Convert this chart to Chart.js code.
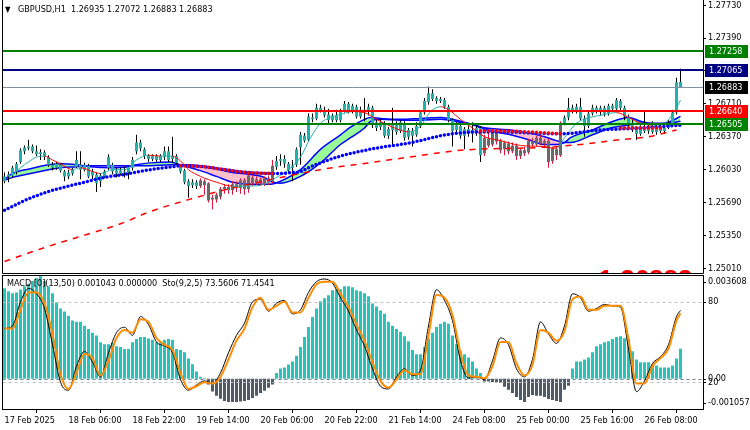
<!DOCTYPE html>
<html>
<head>
<meta charset="utf-8">
<script src="https://cdn.jsdelivr.net/npm/chart.js@4.4.1/dist/chart.umd.min.js"></script>
<style>
  body { margin: 0; background: #fff; }
  #wrap { position: relative; width: 750px; height: 430px; overflow: hidden;
          font-family: 'DejaVu Sans Condensed', 'DejaVu Sans', sans-serif; font-size: 9px; color: #000; }
  canvas { position: absolute; left: 0; }
  #main { top: 0; }
  #sub { top: 274px; }
  .title { position: absolute; white-space: pre; line-height: 11px; }
  #arrow { left: 5px; top: 4px; font-size: 8px; }
  #t1 { left: 18px; top: 4px; }
  #t2 { left: 7px; top: 278px; }
</style>
</head>
<body>
<div id="wrap">
  <canvas id="main" width="750" height="274"></canvas>
  <canvas id="sub" width="750" height="156"></canvas>
  <div class="title" id="arrow">▼</div>
  <div class="title" id="t1">GBPUSD,H1  1.26935 1.27072 1.26883 1.26883</div>
  <div class="title" id="t2">MACD [0](13,50) 0.001043 0.000000  Sto(9,2,5) 73.5606 71.4541</div>
</div>
<script>
// time axis: one label every 16 hourly bars
const timeLabels = ['17 Feb 2025', '18 Feb 06:00', '18 Feb 22:00', '19 Feb 14:00', '20 Feb 06:00', '20 Feb 22:00',
                    '21 Feb 14:00', '24 Feb 08:00', '25 Feb 00:00', '25 Feb 16:00', '26 Feb 08:00'];
const timeTickBars = [0, 16, 32, 48, 64, 80, 96, 112, 128, 144, 160];
const priceTicks = [1.25010, 1.25350, 1.25690, 1.26030, 1.26370, 1.26710, 1.27050, 1.27390, 1.27730];

// GBPUSD H1 candles
const openP = [
1.2591,1.2596,1.2597,1.2601,1.2611,1.2622,1.2625,1.2627,1.2622,1.2619,
1.2621,1.2616,1.2608,1.2605,1.2608,1.2601,1.2596,1.2599,1.2606,1.2608,
1.2603,1.2607,1.2597,1.2598,1.2591,1.2596,1.2605,1.2608,1.2602,1.2599,
1.2601,1.2600,1.2605,1.2622,1.2631,1.2624,1.2617,1.2614,1.2617,1.2613,
1.2616,1.2622,1.2614,1.2617,1.2607,1.2602,1.2591,1.2587,1.2590,1.2586,
1.2591,1.2589,1.2572,1.2572,1.2575,1.2583,1.2585,1.2582,1.2588,1.2584,
1.2592,1.2583,1.2595,1.2589,1.2593,1.2589,1.2594,1.2591,1.2606,1.2612,
1.2614,1.2609,1.2605,1.2608,1.2626,1.2638,1.2634,1.2657,1.2656,1.2667,
1.2664,1.2660,1.2654,1.2659,1.2654,1.2664,1.2671,1.2663,1.2668,1.2658,
1.2665,1.2663,1.2667,1.2652,1.2647,1.2651,1.2638,1.2644,1.2649,1.2643,
1.2651,1.2637,1.2643,1.2639,1.2648,1.2662,1.2673,1.2682,1.2677,1.2674,
1.2675,1.2668,1.2654,1.2644,1.2648,1.2638,1.2645,1.2640,1.2646,1.2646,
1.2620,1.2635,1.2629,1.2643,1.2633,1.2624,1.2630,1.2622,1.2628,1.2617,
1.2623,1.2621,1.2633,1.2629,1.2636,1.2630,1.2633,1.2612,1.2624,1.2618,
1.2651,1.2657,1.2667,1.2663,1.2668,1.2656,1.2648,1.2661,1.2667,1.2663,
1.2667,1.2661,1.2669,1.2666,1.2674,1.2667,1.2658,1.2651,1.2645,1.2640,
1.2646,1.2643,1.2648,1.2642,1.2647,1.2643,1.2646,1.2651,1.2662,1.26935];
const highP = [
1.2600,1.2601,1.2607,1.2611,1.2625,1.2628,1.2634,1.2629,1.2628,1.2624,
1.2623,1.2618,1.2611,1.2611,1.2610,1.2603,1.2603,1.2605,1.2622,1.2622,
1.2610,1.2609,1.2604,1.2600,1.2599,1.2603,1.2619,1.2610,1.2605,1.2605,
1.2606,1.2606,1.2616,1.2639,1.2634,1.2626,1.2619,1.2619,1.2619,1.2619,
1.2627,1.2627,1.2637,1.2619,1.2608,1.2604,1.2593,1.2593,1.2592,1.2594,
1.2593,1.2590,1.2577,1.2579,1.2585,1.2588,1.2588,1.2591,1.2591,1.2594,
1.2594,1.2599,1.2597,1.2596,1.2595,1.2596,1.2597,1.2613,1.2617,1.2619,
1.2618,1.2611,1.2613,1.2626,1.2642,1.2641,1.2661,1.2661,1.2671,1.2670,
1.2668,1.2666,1.2661,1.2665,1.2666,1.2674,1.2673,1.2671,1.2670,1.2668,
1.2677,1.2671,1.2669,1.2655,1.2655,1.2653,1.2647,1.2667,1.2653,1.2654,
1.2653,1.2646,1.2646,1.2652,1.2664,1.2677,1.2689,1.2686,1.2679,1.2678,
1.2677,1.2670,1.2656,1.2652,1.2651,1.2647,1.2649,1.2652,1.2649,1.2648,
1.2639,1.2642,1.2645,1.2645,1.2635,1.2633,1.2632,1.2631,1.2630,1.2625,
1.2627,1.2635,1.2636,1.2638,1.2639,1.2635,1.2635,1.2627,1.2627,1.2653,
1.2659,1.2677,1.2670,1.2671,1.2677,1.2659,1.2663,1.2670,1.2669,1.2669,
1.2669,1.2671,1.2671,1.2677,1.2676,1.2669,1.2660,1.2655,1.2648,1.2649,
1.2663,1.2651,1.2653,1.2651,1.2651,1.2649,1.2654,1.2665,1.2698,1.27072];
const lowP = [
1.2589,1.2590,1.2595,1.2598,1.2609,1.2619,1.2623,1.2620,1.2617,1.2613,
1.2613,1.2606,1.2602,1.2603,1.2600,1.2591,1.2593,1.2597,1.2605,1.2593,
1.2601,1.2594,1.2593,1.2580,1.2585,1.2594,1.2603,1.2598,1.2595,1.2597,
1.2595,1.2593,1.2602,1.2619,1.2622,1.2614,1.2611,1.2612,1.2611,1.2611,
1.2613,1.2611,1.2610,1.2608,1.2599,1.2588,1.2574,1.2584,1.2583,1.2584,
1.2577,1.2569,1.2562,1.2569,1.2572,1.2578,1.2578,1.2577,1.2580,1.2578,
1.2577,1.2579,1.2586,1.2587,1.2586,1.2586,1.2587,1.2589,1.2603,1.2607,
1.2605,1.2599,1.2591,1.2606,1.2608,1.2631,1.2632,1.2652,1.2654,1.2662,
1.2657,1.2651,1.2652,1.2652,1.2652,1.2662,1.2661,1.2661,1.2656,1.2656,
1.2653,1.2659,1.2646,1.2643,1.2644,1.2636,1.2635,1.2627,1.2639,1.2641,
1.2633,1.2634,1.2627,1.2637,1.2646,1.2660,1.2670,1.2674,1.2671,1.2672,
1.2666,1.2652,1.2627,1.2639,1.2635,1.2624,1.2637,1.2631,1.2638,1.2611,
1.2617,1.2626,1.2627,1.2629,1.2620,1.2618,1.2619,1.2620,1.2613,1.2614,
1.2617,1.2619,1.2627,1.2627,1.2628,1.2625,1.2605,1.2609,1.2613,1.2616,
1.2649,1.2654,1.2661,1.2661,1.2654,1.2637,1.2646,1.2659,1.2661,1.2659,
1.2658,1.2659,1.2663,1.2664,1.2665,1.2654,1.2647,1.2642,1.2634,1.2638,
1.2641,1.2640,1.2640,1.2639,1.2641,1.2640,1.2645,1.2648,1.2660,1.26883];
const closeP = [
1.2596,1.2598,1.2605,1.2609,1.2623,1.2626,1.2627,1.2622,1.2619,1.2621,
1.2616,1.2608,1.2605,1.2609,1.2602,1.2596,1.2600,1.2603,1.2613,1.2603,
1.2608,1.2596,1.2601,1.2589,1.2597,1.2601,1.2616,1.2601,1.2599,1.2602,
1.2600,1.2605,1.2613,1.2631,1.2625,1.2617,1.2614,1.2617,1.2613,1.2617,
1.2622,1.2613,1.2617,1.2610,1.2601,1.2590,1.2586,1.2590,1.2586,1.2592,
1.2587,1.2571,1.2574,1.2577,1.2583,1.2585,1.2582,1.2588,1.2584,1.2592,
1.2583,1.2597,1.2589,1.2593,1.2589,1.2594,1.2590,1.2607,1.2612,1.2614,
1.2609,1.2602,1.2607,1.2624,1.2639,1.2633,1.2658,1.2655,1.2667,1.2664,
1.2659,1.2654,1.2659,1.2654,1.2664,1.2671,1.2663,1.2669,1.2658,1.2665,
1.2663,1.2668,1.2651,1.2646,1.2652,1.2638,1.2645,1.2651,1.2642,1.2652,
1.2636,1.2644,1.2638,1.2648,1.2662,1.2674,1.2682,1.2676,1.2674,1.2676,
1.2668,1.2654,1.2643,1.2649,1.2638,1.2645,1.2640,1.2644,1.2641,1.2618,
1.2636,1.2628,1.2643,1.2632,1.2623,1.2631,1.2622,1.2628,1.2617,1.2623,
1.2620,1.2633,1.2629,1.2636,1.2630,1.2633,1.2611,1.2625,1.2618,1.2651,
1.2657,1.2667,1.2663,1.2668,1.2656,1.2648,1.2661,1.2667,1.2663,1.2667,
1.2661,1.2669,1.2666,1.2675,1.2667,1.2658,1.2651,1.2645,1.2640,1.2646,
1.2643,1.2648,1.2642,1.2647,1.2643,1.2646,1.2651,1.2662,1.2693,1.26883];
// 1 = up-trend bar (teal), 0 = down-trend bar (grey)
const trendUp = ('1111111111' + '1111111111' + '1111111111' + '1111111111' + '1111111110' +
                 '0000000000' + '0000000011' + '1111111111' + '1111111111' + '1111111111' +
                 '1111111111' + '1111111111' + '0000000000' + '0000000000' + '1111111111' +
                 '1111111111' + '1111111111').split('').map(Number);

// overlay lines, [bar, price]
const bandFast = [[0,1.2593],[2,1.2599],[6.5,1.2604],[11,1.2608],[14,1.2609],[18,1.2608],[21.5,1.2606],[26.5,1.2605],
  [31,1.2606],[33,1.2608],[36.5,1.2610],[41.5,1.2611],[44,1.2608],[49,1.2602],[53,1.2596],[57,1.2590],[61.5,1.2588],
  [65,1.2588],[66.5,1.2588],[69,1.2591],[74,1.2603],[79,1.2624],[84,1.2639],[86.5,1.2647],[90,1.2655],[91.5,1.2657],
  [94,1.2656],[99,1.2655],[104,1.2656],[109,1.2657],[114,1.2653],[118,1.2648],[119,1.2646],[126.5,1.2639],[131,1.2634],
  [135,1.2629],[138,1.2629],[140,1.2631],[141.5,1.2636],[147,1.2644],[151.5,1.2652],[156,1.2657],[159,1.2653],
  [163,1.2650],[166,1.2652],[169,1.2658]];
const bandSlow = [[0,1.2592],[2,1.2595],[6.5,1.2599],[11,1.2603],[14,1.2605],[18,1.2606],[21.5,1.2607],[26.5,1.2607],
  [31,1.2607],[33,1.2607],[36.5,1.2607],[41.5,1.2608],[44,1.2608],[49,1.2607],[53,1.2604],[57,1.2600],[61.5,1.2598],
  [65,1.2595],[66.5,1.2591],[69,1.2589],[74,1.2596],[79,1.2610],[84,1.2629],[86.5,1.2636],[90,1.2646],[91.5,1.2653],
  [94,1.2655],[99,1.2654],[104,1.2654],[109,1.2655],[114,1.2652],[118,1.2649],[119,1.2647],[126.5,1.2644],[131,1.2641],
  [135,1.2637],[138,1.2633],[140,1.2631],[141.5,1.2631],[147,1.2639],[151.5,1.2646],[156,1.2649],[159,1.2651],
  [163,1.2651],[166,1.2651],[169,1.2653]];
const emaFast = [[2,1.2597],[4,1.2605],[6,1.2611],[8,1.2616],[10,1.2617],[12,1.2613],[14,1.2609],[17,1.2603],[19,1.2605],
  [22,1.2601],[24,1.2599],[27,1.2603],[30,1.2603],[33,1.2613],[36,1.2618],[39,1.2617],[42,1.2617],[44,1.2612],[46,1.2603],
  [49,1.2596],[53,1.2590],[57,1.2586],[61,1.2586],[65,1.2588],[68,1.2595],[71,1.2603],[74,1.2616],[76.5,1.2636],
  [79,1.2651],[81.5,1.2657],[84,1.2660],[87,1.2663],[90,1.2662],[93,1.2655],[97,1.2647],[101,1.2642],[104,1.2648],
  [106.5,1.2663],[109,1.2668],[111,1.2665],[114,1.2655],[117,1.2646],[120,1.2637],[124,1.2633],[129,1.2628],[134,1.2627],
  [138,1.2625],[140,1.2636],[143,1.2651],[146.5,1.2657],[150,1.2660],[153,1.2662],[156,1.2657],[159,1.2651],[162,1.2649],
  [165,1.2651],[168,1.2667],[169,1.2675]];
const maDots = [[0,1.2561],[5,1.2571],[10,1.2579],[15,1.2585],[20,1.2590],[25,1.2595],[30,1.2598],[35,1.2602],[40,1.2605],
  [45,1.2607],[50,1.2606],[55,1.2603],[61,1.2600],[68,1.2599],[72,1.2600],[74,1.2601],[76,1.2605],[79,1.2610],[84,1.2617],
  [89,1.2622],[94,1.2626],[99,1.2629],[104,1.2633],[109,1.2638],[114,1.2641],[119,1.2642],[124,1.2642],[131,1.2641],
  [139,1.2640],[149,1.2644],[159,1.2646],[169,1.2649]];
const maDotsBear = [[44,1.2607],[50,1.2606],[55,1.2603],[61,1.2600],[67,1.2599],[68,null],
  [119,1.2643],[124,1.2643],[131,1.2642],[139,1.2640],[140,null],[154,1.2646],[160,1.2646],[165,1.2646]];
const maLong = [[0,1.2508],[9,1.2521],[19,1.2534],[29,1.2547],[36,1.2559],[46,1.2572],[56,1.2583],[67,1.2593],
  [79,1.2603],[91,1.2610],[103,1.2617],[114,1.2623],[134,1.2626],[144,1.2629],[154,1.2634],[161,1.2637],[168,1.2644]];

// horizontal price levels
const levelPrices = [1.27258, 1.27065, 1.26883, 1.26640, 1.26505];
// big price label sitting under the main window, only its top shows
const bigLabel = {text: '1.26883', bar: 148.5};

// MACD histogram and stochastic
const macdHist = [
0.00315,0.00304,0.00297,0.00300,0.00310,0.00322,0.00330,0.00340,0.00350,0.00361,
0.00340,0.00322,0.00297,0.00265,0.00244,0.00234,0.00219,0.00202,0.00198,0.00198,
0.00184,0.00173,0.00160,0.00150,0.00127,0.00120,0.00120,0.00125,0.00113,0.00110,
0.00103,0.00103,0.00127,0.00138,0.00145,0.00145,0.00140,0.00135,0.00127,0.00127,
0.00135,0.00138,0.00135,0.00103,0.00100,0.00092,0.00070,0.00050,0.00025,0.00007,
0.00002,-0.00020,-0.00045,-0.00060,-0.00070,-0.00078,-0.00081,-0.00081,-0.00081,-0.00080,
-0.00078,-0.00074,-0.00067,-0.00060,-0.00050,-0.00042,-0.00032,-0.00020,0.00020,0.00035,
0.00039,0.00049,0.00060,0.00080,0.00110,0.00145,0.00180,0.00215,0.00244,0.00269,
0.00280,0.00290,0.00308,0.00311,0.00311,0.00322,0.00322,0.00318,0.00308,0.00304,
0.00297,0.00287,0.00262,0.00251,0.00237,0.00226,0.00198,0.00184,0.00173,0.00163,
0.00148,0.00130,0.00100,0.00085,0.00085,0.00110,0.00140,0.00160,0.00180,0.00191,
0.00198,0.00191,0.00150,0.00120,0.00095,0.00085,0.00074,0.00060,0.00035,0.00020,
-0.00010,-0.00010,-0.00012,-0.00012,-0.00014,-0.00028,-0.00039,-0.00050,-0.00064,-0.00074,
-0.00081,-0.00064,-0.00057,-0.00060,-0.00060,-0.00064,-0.00071,-0.00074,-0.00078,-0.00081,
-0.00039,-0.00025,0.00035,0.00060,0.00060,0.00067,0.00074,0.00092,0.00113,0.00120,
0.00127,0.00130,0.00138,0.00145,0.00148,0.00141,0.00138,0.00095,0.00067,0.00057,
0.00057,0.00057,0.00050,0.00046,0.00039,0.00039,0.00039,0.00046,0.00070,0.00104];
const stoMain = [[0,60],[2,62],[4,80],[6,90],[8,86],[10,75],[12,48],[14,20],[16,14],[18,32],[20,43],[22,35],[24,24],
  [26,42],[28,57],[30,61],[32,55],[34,69],[36,63],[38,50],[40,47],[42,42],[44,22],[46,14],[48,18],[50,21],[52,19],
  [54,27],[56,42],[58,55],[60,64],[62,80],[64,82],[66,73],[68,79],[70,81],[72,71],[74,74],[76,87],[78,95],[80,97],
  [82,94],[84,83],[86,73],[88,59],[90,47],[92,30],[94,17],[96,15],[98,24],[100,30],[102,25],[104,29],[106,62],[108,89],
  [110,81],[112,66],[114,36],[116,23],[118,24],[120,22],[122,36],[124,53],[126,48],[128,30],[130,24],[132,37],[134,65],
  [136,56],[138,49],[140,62],[142,86],[144,83],[146,73],[148,75],[150,78],[152,77],[154,76],[156,45],[158,13],[160,21],
  [162,34],[164,39],[166,48],[168,69],[169,73.56]];
const stoSignal = [[0,60],[2,60],[4,74],[6,87],[8,87],[10,79],[12,56],[14,26],[16,15],[18,27],[20,41],[22,38],[24,25],
  [26,36],[28,53],[30,59],[32,57],[34,67],[36,65],[38,53],[40,48],[42,44],[44,27],[46,15],[48,17],[50,20],[52,19],
  [54,24],[56,37],[58,51],[60,60],[62,76],[64,83],[66,74],[68,77],[70,80],[72,72],[74,72],[76,83],[78,93],[80,95],
  [82,95],[84,86],[86,76],[88,63],[90,51],[92,35],[94,21],[96,16],[98,22],[100,29],[102,26],[104,26],[106,55],[108,85],
  [110,83],[112,70],[114,42],[116,25],[118,24],[120,23],[122,32],[124,50],[126,50],[128,34],[130,25],[132,33],[134,59],
  [136,57],[138,51],[140,58],[142,82],[144,84],[146,74],[148,74],[150,77],[152,77],[154,77],[156,52],[158,19],[160,19],
  [162,32],[164,38],[166,45],[168,66],[169,71.45]];

const FONT = "'DejaVu Sans Condensed', 'DejaVu Sans', sans-serif";
Chart.defaults.font.family = FONT;
Chart.defaults.font.size = 9;
Chart.defaults.color = '#000';

const pts = arr => arr.map(([x, y]) => ({x, y}));
const bars = openP.map((_, i) => i);
const xRange = {type: 'linear', min: -0.5, max: 174.625, offset: false};

const levelColors = ['#008000', '#000080', '#8090A0', '#FF0000', '#008000'];
const levelWidths = [2, 2, 1, 2, 2];
const boxColors = ['#008000', '#000080', '#000000', '#FF0000', '#008000'];

const mainDecor = {
  id: 'mainDecor',
  afterDatasetsDraw(chart) {
    const {ctx, chartArea: a, scales: {x, y}} = chart;
    ctx.save();
    levelPrices.forEach((p, k) => {
      let py = Math.round(y.getPixelForValue(p));
      if (levelWidths[k] % 2) py += 0.5;
      ctx.strokeStyle = levelColors[k];
      ctx.lineWidth = levelWidths[k];
      ctx.beginPath(); ctx.moveTo(a.left, py); ctx.lineTo(a.right, py); ctx.stroke();
    });
    // big red label, clipped by the bottom of the window
    ctx.beginPath(); ctx.rect(a.left, a.top, a.right - a.left, a.bottom - a.top - 1); ctx.clip();
    ctx.fillStyle = '#FF0000';
    ctx.font = "bold 26px 'Liberation Sans', Arial, sans-serif";
    ctx.textBaseline = 'alphabetic';
    ctx.fillText(bigLabel.text, x.getPixelForValue(bigLabel.bar), a.bottom + 14);
    ctx.restore();
  },
  afterDraw(chart) {
    const {ctx, chartArea: a, scales: {y}} = chart;
    ctx.save();
    ctx.strokeStyle = '#000'; ctx.lineWidth = 1;
    ctx.beginPath();
    ctx.moveTo(a.left, 0); ctx.lineTo(a.left, a.bottom - 0.5);
    ctx.lineTo(a.right + 0.5, a.bottom - 0.5); ctx.lineTo(a.right + 0.5, 0);
    ctx.stroke();
    ctx.font = '9px ' + FONT;
    ctx.textBaseline = 'middle';
    levelPrices.forEach((p, k) => {
      const py = Math.round(y.getPixelForValue(p));
      ctx.fillStyle = boxColors[k];
      ctx.fillRect(a.right + 2, py - 6, 43, 13);
      ctx.fillStyle = '#fff';
      ctx.fillText(p.toFixed(5), a.right + 6, py + 0.5);
    });
    ctx.restore();
  }
};

new Chart(document.getElementById('main'), {
  type: 'bar',
  data: {
    datasets: [
      {type: 'line', data: pts(bandFast), borderColor: '#0000FF', borderWidth: 1.5, pointRadius: 0,
       cubicInterpolationMode: 'monotone', fill: {target: 1, above: '#98FB98', below: '#FFC0CB'}, order: 20},
      {type: 'line', data: pts(bandSlow), borderColor: '#0000FF', borderWidth: 1.5, pointRadius: 0,
       cubicInterpolationMode: 'monotone', fill: false, order: 19},
      {data: bars.map(i => ({x: i, y: [lowP[i], highP[i]]})), barThickness: 1, grouped: false, inflateAmount: 0,
       backgroundColor: c => trendUp[c.dataIndex] ? '#000000' : '#DC143C', order: 15},
      {data: bars.map(i => ({x: i, y: [openP[i], closeP[i]]})), barThickness: 3, grouped: false, inflateAmount: 0,
       minBarLength: 1, backgroundColor: c => trendUp[c.dataIndex] ? '#20B2AA' : '#696969', order: 14},
      {type: 'line', data: pts(maLong), borderColor: '#FF0000', borderWidth: 1.5, borderDash: [6, 6], pointRadius: 0,
       cubicInterpolationMode: 'monotone', order: 6},
      {type: 'line', data: pts(emaFast), borderColor: '#20B2AA', borderWidth: 1, pointRadius: 0,
       cubicInterpolationMode: 'monotone', order: 5,
       segment: {borderColor: c => c.p1.parsed.y >= c.p0.parsed.y ? '#20B2AA' : '#FF0000'}},
      {type: 'line', data: pts(maDots), borderColor: '#0000FF', borderWidth: 3.5, borderDash: [0, 4],
       borderCapStyle: 'round', pointRadius: 0, cubicInterpolationMode: 'monotone', order: 4},
      {type: 'line', data: pts(maDotsBear), borderColor: '#FF0000', borderWidth: 3.5, borderDash: [0, 4],
       borderCapStyle: 'round', pointRadius: 0, spanGaps: false, cubicInterpolationMode: 'monotone', order: 3}
    ]
  },
  options: {
    responsive: false, animation: false, devicePixelRatio: 1,
    layout: {padding: {left: 2.5, top: 0, right: 0, bottom: 0}},
    plugins: {legend: {display: false}, tooltip: {enabled: false}},
    scales: {
      x: Object.assign({display: false}, xRange),
      y: {
        position: 'right', min: 1.24951, max: 1.27784, beginAtZero: false,
        afterBuildTicks: s => { s.ticks = priceTicks.map(v => ({value: v})); },
        afterFit: s => { s.width = 47; s.paddingTop = 0; s.paddingBottom = 0; },
        ticks: {callback: v => v.toFixed(5), padding: 2},
        grid: {drawOnChartArea: false, tickLength: 3, color: '#000'},
        border: {display: false}
      }
    }
  },
  plugins: [mainDecor]
});

const subDecor = {
  id: 'subDecor',
  afterDatasetDraw(chart, args) {
    if (args.index !== 0) return;
    const {ctx, chartArea: a, scales: {macd, sto}} = chart;
    ctx.save();
    ctx.lineWidth = 1;
    ctx.setLineDash([3, 3]);
    ctx.strokeStyle = '#C0C0C0';
    [80, 20].forEach(v => {
      const py = Math.round(sto.getPixelForValue(v)) + 0.5;
      ctx.beginPath(); ctx.moveTo(a.left, py); ctx.lineTo(a.right, py); ctx.stroke();
    });
    ctx.strokeStyle = '#708090';
    const pz = Math.round(macd.getPixelForValue(0)) + 0.5;
    ctx.beginPath(); ctx.moveTo(a.left, pz); ctx.lineTo(a.right, pz); ctx.stroke();
    ctx.restore();
  },
  afterDraw(chart) {
    const {ctx, chartArea: a, scales: {macd, sto}} = chart;
    ctx.save();
    ctx.strokeStyle = '#000'; ctx.lineWidth = 1;
    ctx.strokeRect(a.left, a.top + 0.5, a.right + 0.5 - a.left, a.bottom - a.top);
    ctx.font = '9px ' + FONT;
    ctx.fillStyle = '#000';
    ctx.textBaseline = 'middle';
    const lx = a.right + 5;
    const labels = [
      ['0.003608', a.top + 7], ['80', sto.getPixelForValue(80)], ['20', sto.getPixelForValue(20)],
      ['0.00', macd.getPixelForValue(0)], ['-0.001057', a.bottom - 6]
    ];
    labels.forEach(([t, py]) => {
      ctx.fillText(t, lx, py);
      ctx.beginPath(); ctx.moveTo(a.right, Math.round(py) + 0.5); ctx.lineTo(a.right + 3, Math.round(py) + 0.5); ctx.stroke();
    });
    ctx.restore();
  }
};

new Chart(document.getElementById('sub'), {
  type: 'bar',
  data: {
    datasets: [
      {data: bars.map(i => ({x: i, y: macdHist[i]})), yAxisID: 'macd', barThickness: 3, grouped: false,
       inflateAmount: 0, backgroundColor: c => macdHist[c.dataIndex] >= 0 ? '#26C4BA' : '#4F5A66', order: 3},
      {type: 'line', data: pts(stoMain), yAxisID: 'sto', borderColor: '#000000', borderWidth: 1, pointRadius: 0,
       cubicInterpolationMode: 'monotone', order: 2},
      {type: 'line', data: pts(stoSignal), yAxisID: 'sto', borderColor: '#FF8C00', borderWidth: 2, pointRadius: 0,
       cubicInterpolationMode: 'monotone', order: 1}
    ]
  },
  options: {
    responsive: false, animation: false, devicePixelRatio: 1,
    layout: {padding: {left: 2.5, top: 1, right: 0, bottom: 0}},
    plugins: {legend: {display: false}, tooltip: {enabled: false}},
    scales: {
      x: Object.assign({
        position: 'bottom',
        afterBuildTicks: s => { s.ticks = timeTickBars.map(v => ({value: v})); },
        afterFit: s => { s.height = 21; s.paddingLeft = 0; s.paddingRight = 0; },
        ticks: {autoSkip: false, maxRotation: 0, minRotation: 0, align: 'start', padding: 2,
                callback: (v, i) => timeLabels[i]},
        grid: {drawOnChartArea: false, tickLength: 4, color: '#000'},
        border: {display: false}
      }, xRange),
      macd: {
        position: 'right', min: -0.001057, max: 0.003608, beginAtZero: false,
        ticks: {display: false}, grid: {display: false}, border: {display: false},
        afterFit: s => { s.width = 47; s.paddingTop = 0; s.paddingBottom = 0; }
      },
      sto: {display: false, min: 0, max: 100}
    }
  },
  plugins: [subDecor]
});
</script>
</body>
</html>
